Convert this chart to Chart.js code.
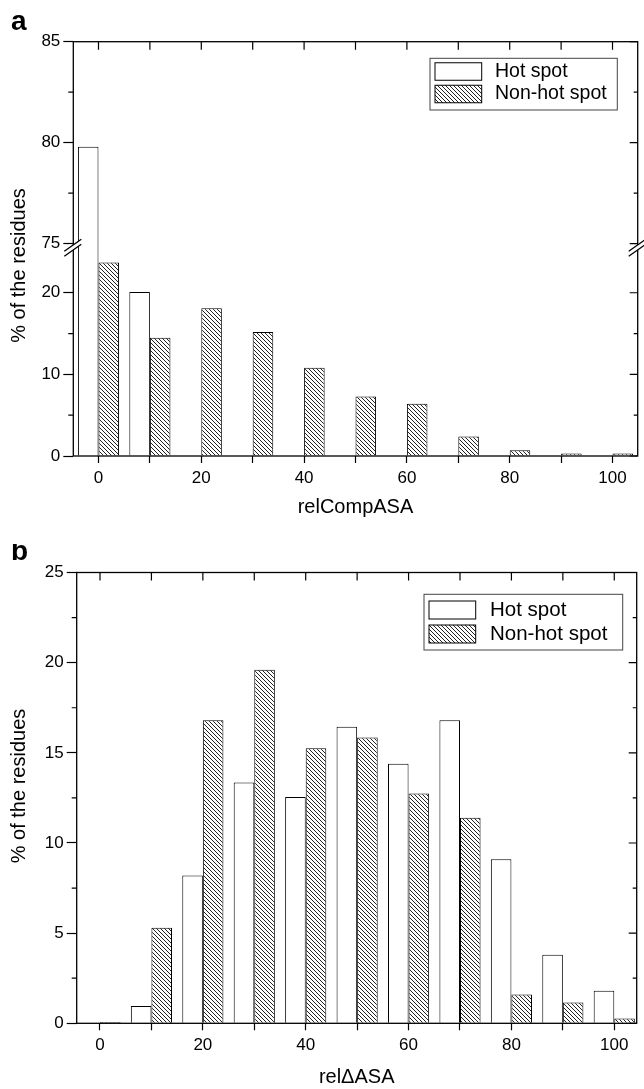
<!DOCTYPE html>
<html>
<head>
<meta charset="utf-8">
<script src="https://cdn.jsdelivr.net/npm/chart.js@4.4.1/dist/chart.umd.min.js"></script>
<style>
  body { margin: 0; background: #fff; }
  .panel { position: absolute; left: 0; width: 644px; }
  #panelA { top: 0; height: 544px; }
  #panelB { top: 544px; height: 545px; }
</style>
</head>
<body>
<div class="panel" id="panelA"><canvas id="chartA"></canvas></div>
<div class="panel" id="panelB"><canvas id="chartB"></canvas></div>
<script>
// ---- DATA ----
const binsA = [0, 10, 20, 30, 40, 50, 60, 70, 80, 90, 100];
const hotA = [79.8, 20.1, 0, 0, 0, 0, 0, 0, 0, 0, 0];
const nonHotA = [23.7, 14.5, 18.1, 15.2, 10.8, 7.3, 6.4, 2.4, 0.7, 0.3, 0.3];

const binsB = [0, 10, 20, 30, 40, 50, 60, 70, 80, 90, 100];
const hotB = [0, 0.96, 8.2, 13.35, 12.55, 16.45, 14.4, 16.8, 9.1, 3.8, 1.8];
const nonHotB = [0.07, 5.3, 16.8, 19.6, 15.25, 15.85, 12.75, 11.4, 1.6, 1.15, 0.27];

const xTicks = [0, 10, 20, 30, 40, 50, 60, 70, 80, 90, 100];
const yMajorA = [0, 10, 20, 75, 80, 85];
const yMinorA = [5, 15, 77.5, 82.5];
const yMajorB = [0, 5, 10, 15, 20, 25];
const yMinorB = [2.5, 7.5, 12.5, 17.5, 22.5];

const FONT = "'Liberation Sans', Arial, sans-serif";

// ---- BROKEN Y SCALE (0-25 // 75-85) ----
class BrokenScale extends Chart.LinearScale {
  getPixelForValue(v) {
    if (v === null || v === undefined) return NaN;
    const o = this.options;
    const [b0, b1] = o.breakAt;
    const h = this.bottom - this.top;
    const lowH = h * o.lowShare, gapH = h * o.gapShare, upH = h - lowH - gapH;
    if (v <= b0) return this.bottom - (v - this.min) / (b0 - this.min) * lowH;
    if (v >= b1) return this.bottom - lowH - gapH - (v - b1) / (this.max - b1) * upH;
    return this.bottom - lowH - (v - b0) / (b1 - b0) * gapH;
  }
  getValueForPixel(p) {
    const o = this.options;
    const [b0, b1] = o.breakAt;
    const h = this.bottom - this.top;
    const lowH = h * o.lowShare, gapH = h * o.gapShare, upH = h - lowH - gapH;
    const d = this.bottom - p;
    if (d <= lowH) return this.min + d / lowH * (b0 - this.min);
    if (d >= lowH + gapH) return b1 + (d - lowH - gapH) / upH * (this.max - b1);
    return b0 + (d - lowH) / gapH * (b1 - b0);
  }
}
BrokenScale.id = 'broken';
BrokenScale.defaults = Chart.LinearScale.defaults;
Chart.register(BrokenScale);

// ---- HATCH ----
const hatch = () => {
  const c = document.createElement('canvas');
  c.width = c.height = 4;
  const g = c.getContext('2d');
  g.fillStyle = '#fff';
  g.fillRect(0, 0, 4, 4);
  g.strokeStyle = '#222';
  g.lineWidth = 1;
  g.beginPath();
  g.moveTo(-1, -1); g.lineTo(5, 5);
  g.moveTo(-1, 3); g.lineTo(1, 5);
  g.moveTo(3, -1); g.lineTo(5, 1);
  g.stroke();
  return g.createPattern(c, 'repeat');
};

// ---- FRAME / MINOR TICKS / BREAK / LEGEND / LABELS ----
const framePlugin = {
  id: 'frame',
  afterDatasetsDraw(chart, args, opts) {
    const { ctx, chartArea: a, scales: { x, y } } = chart;
    ctx.save();
    ctx.strokeStyle = '#000';
    ctx.lineWidth = 1.2;
    ctx.beginPath();
    xTicks.forEach(v => {
      const px = x.getPixelForValue(v);
      ctx.moveTo(px, a.top); ctx.lineTo(px, a.top + 8);
    });
    opts.major.forEach(v => {
      const py = y.getPixelForValue(v);
      ctx.moveTo(a.right, py); ctx.lineTo(a.right - 8, py);
    });
    opts.minor.forEach(v => {
      const py = y.getPixelForValue(v);
      ctx.moveTo(a.right, py); ctx.lineTo(a.right - 4, py);
      ctx.moveTo(a.left, py); ctx.lineTo(a.left - 5, py);
    });
    ctx.stroke();

    ctx.lineWidth = 1.3;
    ctx.strokeRect(a.left, a.top, a.right - a.left, a.bottom - a.top);

    if (opts.breakAt) {
      const mid = (y.getPixelForValue(opts.breakAt[0]) + y.getPixelForValue(opts.breakAt[1])) / 2;
      [a.left, a.right].forEach(ax => {
        ctx.fillStyle = '#fff';
        ctx.beginPath();
        ctx.moveTo(ax - 9, mid + 8.5); ctx.lineTo(ax + 8, mid - 3.5);
        ctx.lineTo(ax + 8, mid - 8.5); ctx.lineTo(ax - 9, mid + 3.5);
        ctx.closePath();
        ctx.fill();
        ctx.beginPath();
        ctx.moveTo(ax - 9, mid + 8.5); ctx.lineTo(ax + 8, mid - 3.5);
        ctx.moveTo(ax - 9, mid + 3.5); ctx.lineTo(ax + 8, mid - 8.5);
        ctx.stroke();
      });
    }

    // legend
    const lg = opts.legend;
    ctx.lineWidth = 1;
    ctx.strokeStyle = '#444';
    ctx.fillStyle = '#fff';
    ctx.fillRect(lg.x, lg.y, lg.w, lg.h);
    ctx.strokeRect(lg.x, lg.y, lg.w, lg.h);
    chart.data.datasets.forEach((ds, i) => {
      const cy = lg.rows[i];
      ctx.fillStyle = ds.backgroundColor;
      ctx.fillRect(lg.x + 5, cy - lg.sh / 2, lg.sw, lg.sh);
      ctx.strokeStyle = '#000';
      ctx.strokeRect(lg.x + 5, cy - lg.sh / 2, lg.sw, lg.sh);
      ctx.fillStyle = '#000';
      ctx.font = `${lg.size}px ${FONT}`;
      ctx.textAlign = 'left';
      ctx.textBaseline = 'middle';
      ctx.fillText(ds.label, lg.tx, cy);
    });

    // y title
    ctx.save();
    ctx.translate(opts.yTitle.x, opts.yTitle.y);
    ctx.rotate(-Math.PI / 2);
    ctx.font = `20px ${FONT}`;
    ctx.fillStyle = '#000';
    ctx.textAlign = 'center';
    ctx.textBaseline = 'middle';
    ctx.fillText('% of the residues', 0, 0);
    ctx.restore();

    // panel tag
    ctx.font = `bold 28px ${FONT}`;
    ctx.fillStyle = '#000';
    ctx.textAlign = 'left';
    ctx.textBaseline = 'alphabetic';
    ctx.fillText(opts.tag.text, opts.tag.x, opts.tag.y);
    ctx.restore();
  }
};

const xScale = (min, max, height, titleText, titlePad) => ({
  type: 'linear',
  min, max,
  offset: false,
  afterBuildTicks: s => { s.ticks = xTicks.map(v => ({ value: v })); },
  afterFit: s => { s.height = height; },
  grid: { offset: false, drawOnChartArea: false, tickLength: 7, tickWidth: 1.2, tickColor: '#000' },
  border: { display: false },
  ticks: {
    autoSkip: false, maxRotation: 0, padding: 5, color: '#000',
    font: { family: FONT, size: 17 },
    callback: v => (v % 20 === 0 ? String(v) : '')
  },
  title: {
    display: true, text: titleText, color: '#000',
    font: { family: FONT, size: 20 },
    padding: { top: 0, bottom: titlePad }
  }
});

const yTickStyle = (majors, width) => ({
  afterBuildTicks: s => { s.ticks = majors.map(v => ({ value: v })); },
  afterFit: s => { s.width = width; },
  grid: { drawOnChartArea: false, tickLength: 10, tickWidth: 1.2, tickColor: '#000' },
  border: { display: false },
  ticks: { padding: 3, color: '#000', font: { family: FONT, size: 17 } }
});

const barSets = (bins, hot, non) => [
  {
    label: 'Hot spot',
    data: bins.map((b, i) => ({ x: b, y: hot[i] })),
    backgroundColor: '#fff', borderColor: '#000', borderWidth: 1
  },
  {
    label: 'Non-hot spot',
    data: bins.map((b, i) => ({ x: b, y: non[i] })),
    backgroundColor: hatch(), borderColor: '#000', borderWidth: 1
  }
];

// ---- PANEL A ----
new Chart(document.getElementById('chartA'), {
  type: 'bar',
  data: { datasets: barSets(binsA, hotA, nonHotA) },
  options: {
    responsive: true, maintainAspectRatio: false, animation: false,
    layout: { padding: { left: 0, top: 41.7, right: 6.3, bottom: 0 } },
    datasets: { bar: { categoryPercentage: 0.8, barPercentage: 1 } },
    plugins: {
      legend: { display: false },
      tooltip: { enabled: false },
      frame: {
        major: yMajorA, minor: yMinorA, breakAt: [25, 75],
        legend: { x: 430, y: 58.3, w: 187.3, h: 51.7, sw: 46.7, sh: 17.5, rows: [71.5, 94], tx: 495, size: 19.5 },
        yTitle: { x: 19.5, y: 265.5 },
        tag: { text: 'a', x: 11, y: 30 }
      }
    },
    scales: {
      x: xScale(-4.9, 104.9, 88, 'relCompASA', 25),
      y: Object.assign({
        type: 'broken', min: 0, max: 85,
        breakAt: [25, 75], lowShare: 0.4926, gapShare: 0.0198
      }, yTickStyle(yMajorA, 73.3))
    }
  },
  plugins: [framePlugin]
});

// ---- PANEL B ----
new Chart(document.getElementById('chartB'), {
  type: 'bar',
  data: { datasets: barSets(binsB, hotB, nonHotB) },
  options: {
    responsive: true, maintainAspectRatio: false, animation: false,
    layout: { padding: { left: 0, top: 28.5, right: 7.3, bottom: 0 } },
    datasets: { bar: { categoryPercentage: 0.8, barPercentage: 1 } },
    plugins: {
      legend: { display: false },
      tooltip: { enabled: false },
      frame: {
        major: yMajorB, minor: yMinorB, breakAt: null,
        legend: { x: 424, y: 50.3, w: 198.7, h: 55.7, sw: 46.7, sh: 18, rows: [66, 90], tx: 490, size: 20.5 },
        yTitle: { x: 19.5, y: 242 },
        tag: { text: 'b', x: 11, y: 16 }
      }
    },
    scales: {
      x: xScale(-4.53, 104.36, 65.7, 'relΔASA', 0),
      y: Object.assign({ type: 'linear', min: 0, max: 25 }, yTickStyle(yMajorB, 76.7))
    }
  },
  plugins: [framePlugin]
});
</script>
</body>
</html>
